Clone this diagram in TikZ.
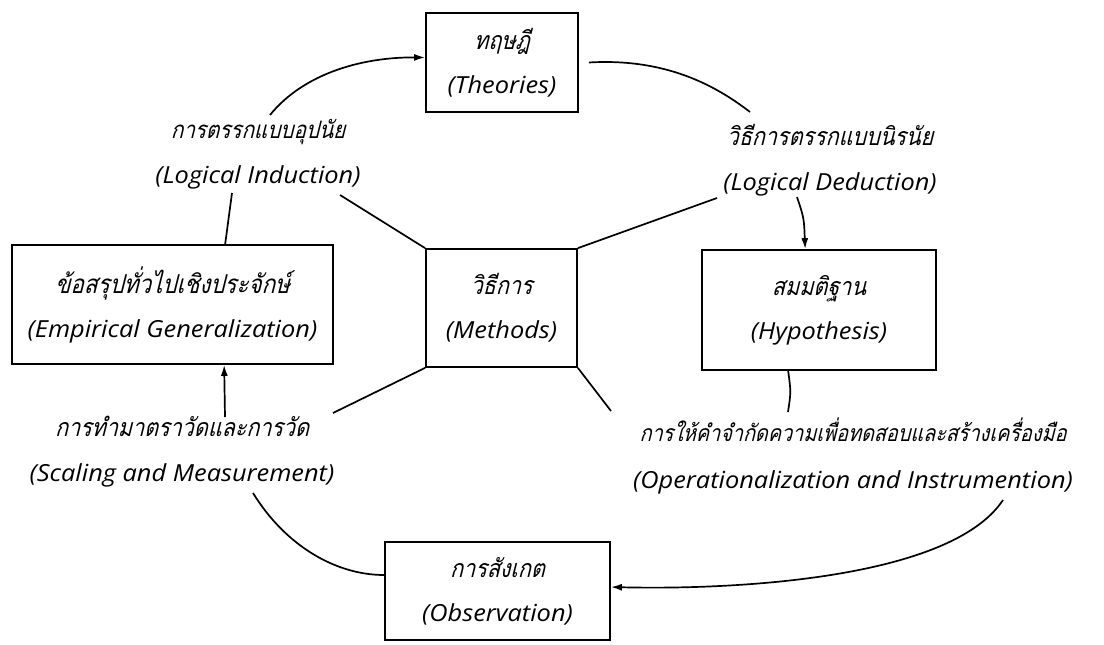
\documentclass[tikz,border=0pt]{standalone}
\usepackage{fontspec}
\setmainfont{Open Sans}
\newfontfamily\thaifont[Script=Thai,FakeStretch=0.86,ItalicFont=Loma,
  ItalicFeatures={FakeSlant=0.25}]{Loma}
\newfontfamily\latinfont[FakeStretch=1.08]{Open Sans}
\usetikzlibrary{arrows.meta,calc}
\newcommand\thtxt[2][25]{{\thaifont\itshape\fontsize{#1}{26}\selectfont #2}}
\newcommand\entxt[1]{{\latinfont\itshape\fontsize{23.5}{26}\selectfont #1}}

\tikzset{
  box/.style={draw, line width=1.7pt, align=center, inner sep=0pt,
              font=\fontsize{22}{44}\selectfont},
  lbl/.style={align=center, inner sep=0pt, font=\fontsize{22}{45}\selectfont},
  link/.style={line width=1.7pt},
  arr/.style={link, -{Latex[length=11pt,width=7pt]}},
}

\begin{document}
\begin{tikzpicture}[x=1pt,y=-1pt]
\useasboundingbox (0,0) rectangle (1104,645);

% boxes of the research cycle
\node[box, minimum width=152pt, minimum height=99pt] (theo) at (502,62.5)
  {\thtxt{ทฤษฎี}\\\entxt{(Theories)}};
\node[box, minimum width=151pt, minimum height=118pt] (meth) at (501.5,308)
  {\thtxt{วิธีการ}\\\entxt{(Methods)}};
\node[box, minimum width=234pt, minimum height=120pt] (hyp) at (819,310)
  {\thtxt{สมมติฐาน}\\\entxt{(Hypothesis)}};
\node[box, minimum width=321pt, minimum height=119pt] (emp) at (172.5,304.5)
  {\thtxt[26]{ข้อสรุปทั่วไปเชิงประจักษ์}\\\entxt{(Empirical Generalization)}};
\node[box, minimum width=225pt, minimum height=98pt] (obs) at (497.5,591)
  {\thtxt{การสังเกต}\\\entxt{(Observation)}};

% process labels on the cycle
\node[lbl] (ind) at (258,154)
  {\thtxt[24]{การตรรกแบบอุปนัย}\\\entxt{(Logical Induction)}};
\node[lbl] (ded) at (830,160)
  {\thtxt{วิธีการตรรกแบบนิรนัย}\\\entxt{(Logical Deduction)}};
\node[lbl] (scl) at (182,452)
  {\thtxt{การทำมาตราวัดและการวัด}\\\entxt{(Scaling and Measurement)}};
\node[lbl, font=\fontsize{22}{47}\selectfont] (opr) at (853,456)
  {\thtxt[23]{การให้คำจำกัดความเพื่อทดสอบและสร้างเครื่องมือ}\\\entxt{(Operationalization and Instrumention)}};

% free ends of the arcs beside the labels
\coordinate (i1) at (270,115);
\coordinate (i2) at (232,193);
\coordinate (d1) at (750,112);
\coordinate (d2) at (797,197);
\coordinate (o1) at (788,412);
\coordinate (o2) at (1003,500);
\coordinate (s1) at (253,493);
\coordinate (s2) at (225,417);
% ends of the spokes from the methods box
\coordinate (m1) at (340,195);
\coordinate (m2) at (717,198);
\coordinate (m3) at (333,413);
\coordinate (m4) at (611,411);

% the cycle
\draw[arr] (i1) .. controls (305,72) and (365,57) .. ($(theo.west)+(0,-5)$);
\draw[link] (i2) .. controls (228,218) .. ($(emp.north west)+(214,0)$);
\draw[link] ($(theo.east)+(10,0)$) .. controls (665,58) and (715,85) .. (d1);
\draw[arr] (d2) .. controls (804,218) .. ($(hyp.north west)+(104,0)$);
\draw[link] ($(hyp.south west)+(87,0)$) .. controls (791,392) .. (o1);
\draw[arr] (o2) .. controls (950,580) and (730,590) .. ($(obs.east)+(0,-4)$);
\draw[link] (s1) .. controls (285,545) and (335,575) .. ($(obs.west)+(0,-16)$);
\draw[arr] (s2) -- ($(emp.south west)+(213,0)$);

% spokes
\draw[link] (meth.north west) -- (m1);
\draw[link] (meth.north east) -- (m2);
\draw[link] (meth.south west) -- (m3);
\draw[link] (meth.south east) -- (m4);
\end{tikzpicture}
\end{document}
